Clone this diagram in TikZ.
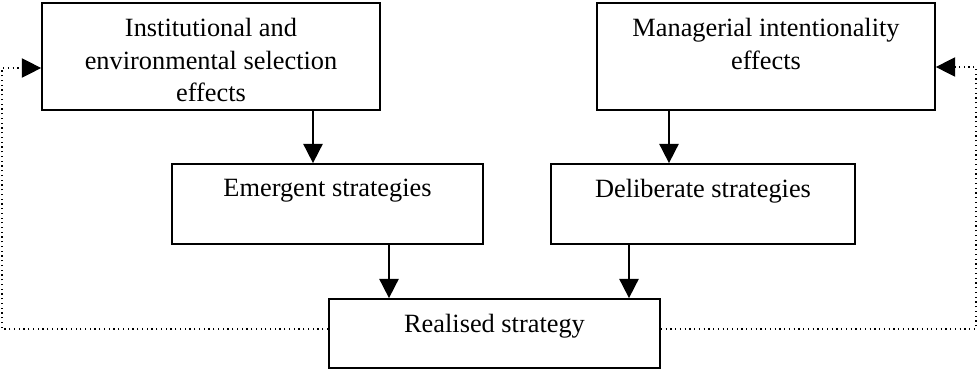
\documentclass[tikz,border=0pt]{standalone}
\usepackage{fontspec}
\setmainfont{Liberation Serif}
\usetikzlibrary{arrows.meta}

\tikzset{
  box/.style={draw, line width=1pt, inner sep=0pt},
  boxtext/.style={anchor=north, align=center, inner sep=0pt,
    font=\fontsize{15}{18.5}\selectfont, yshift=-0.32cm},
  flow/.style={line width=1pt, -{Triangle[length=11pt,width=11pt]}},
  feedback/.style={line width=0.7pt, dotted, -{Triangle[length=11pt,width=11pt]}}
}

\begin{document}
\begin{tikzpicture}[x=0.02cm, y=-0.02cm]

  % Fix the frame of the picture
  \useasboundingbox (0,0) rectangle (978,369);

  % Upper boxes
  \node[box, minimum width=6.76cm, minimum height=2.14cm] (inst) at (211,56.5) {};
  \node[box, minimum width=6.76cm, minimum height=2.14cm] (mgr) at (766,56.5) {};

  % Middle boxes
  \node[box, minimum width=6.22cm, minimum height=1.6cm] (emer) at (327.5,204) {};
  \node[box, minimum width=6.08cm, minimum height=1.6cm] (delib) at (703,204) {};

  % Lower box
  \node[box, minimum width=6.62cm, minimum height=1.38cm] (real) at (494.5,333.5) {};

  % Texts at the top of each box
  \node[boxtext] (instT) at (inst.north) {Institutional and\\environmental selection\\effects};
  \node[boxtext] (mgrT) at (mgr.north) {Managerial intentionality\\effects};
  \node[boxtext] (emerT) at (emer.north) {Emergent strategies};
  \node[boxtext] (delibT) at (delib.north) {Deliberate strategies};
  \node[boxtext] (realT) at (real.north) {Realised strategy};

  % Where the arrows run
  \coordinate (a1) at (313,0);
  \coordinate (a2) at (669,0);
  \coordinate (a3) at (389,0);
  \coordinate (a4) at (629,0);

  % Solid arrows downwards
  \draw[flow] (inst.south -| a1) -- (emer.north -| a1);
  \draw[flow] (mgr.south -| a2) -- (delib.north -| a2);
  \draw[flow] (emer.south -| a3) -- (real.north -| a3);
  \draw[flow] (delib.south -| a4) -- (real.north -| a4);

  % Dotted feedback loops
  \coordinate (fbL) at (2,329);
  \coordinate (fbLtop) at (2,68);
  \coordinate (fbR) at (976,329);
  \coordinate (fbRtop) at (976,67);

  \draw[feedback] (real.west |- fbL) -- (fbL) -- (fbLtop) -- (inst.west |- fbLtop);
  \draw[feedback] (real.east |- fbR) -- (fbR) -- (fbRtop) -- (mgr.east |- fbRtop);

\end{tikzpicture}
\end{document}
